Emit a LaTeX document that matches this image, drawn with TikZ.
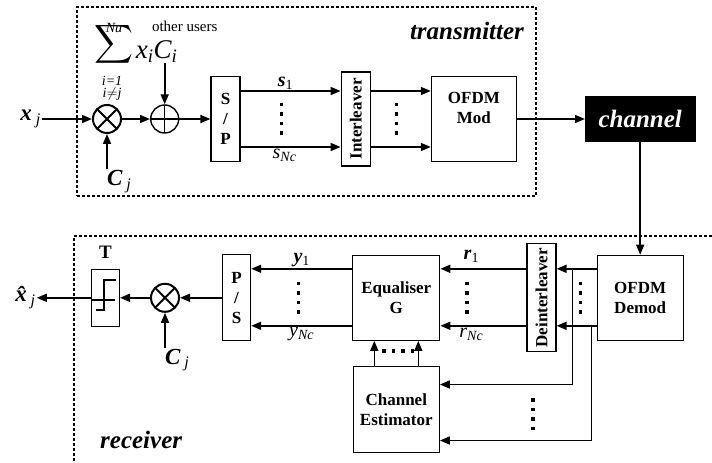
\documentclass[tikz,border=0pt]{standalone}
\usepackage{fontspec}
\setmainfont{Liberation Serif}
\usetikzlibrary{arrows.meta, positioning, calc}
\tikzset{
  blockbox/.style={rectangle,draw,line width=1.2pt,align=center,inner sep=0pt,font=\fontsize{17}{20}\selectfont\bfseries},
  blocktxt/.style={align=center,inner sep=0pt,font=\fontsize{17}{20}\selectfont\bfseries},
  mixnode/.style={circle,draw,line width=2pt,minimum size=28pt,inner sep=0pt,
    path picture={\draw[line width=2pt] (path picture bounding box.south west) -- (path picture bounding box.north east)
      (path picture bounding box.north west) -- (path picture bounding box.south east);}},
  addnode/.style={circle,draw,line width=1.4pt,minimum size=28pt,inner sep=0pt,
    path picture={\draw[line width=1.4pt] (path picture bounding box.north) -- (path picture bounding box.south)
      (path picture bounding box.west) -- (path picture bounding box.east);}},
  chanbox/.style={rectangle,fill=black,draw=black,text=white,minimum width=110pt,minimum height=45pt,inner sep=0pt,font=\fontsize{25}{30}\selectfont\bfseries\itshape},
  areabox/.style={draw,line width=1.2pt,dash pattern=on 3pt off 2pt},
  areatxt/.style={inner sep=0pt,font=\fontsize{25}{30}\selectfont\bfseries\itshape},
  varlbl/.style={inner sep=1pt,font=\fontsize{23}{25}\selectfont\bfseries\itshape},
  sigbold/.style={inner sep=1pt,font=\fontsize{20}{22}\selectfont\bfseries\itshape},
  sigital/.style={inner sep=1pt,font=\fontsize{20}{22}\selectfont\itshape},
  sumtxt/.style={inner sep=1pt,font=\fontsize{27}{30}\selectfont\itshape},
  limtxt/.style={inner sep=0pt,align=center,font=\fontsize{14}{12}\selectfont\itshape},
  usertxt/.style={inner sep=0pt,font=\fontsize{15}{17}\selectfont},
  tlbl/.style={inner sep=0pt,font=\fontsize{19}{21}\selectfont\bfseries},
  arr/.style={-{Triangle[length=10pt,width=8pt]},line width=1.6pt},
  dotcol/.style={line width=3.5pt,dash pattern=on 3.5pt off 6pt},
  stepline/.style={line width=2pt}
}

\begin{document}
\begin{tikzpicture}[x=1pt,y=1pt]
  \useasboundingbox (0,0) rectangle (712,463);

  %% areas
  \node[areabox,minimum width=459pt,minimum height=189pt] (txarea) at (306.5,361.5) {};
  \node[areatxt] (txlbl) at (467,432) {transmitter};
  \coordinate (rxcorner) at (74,227);
  \draw[areabox] (712,227) -- (rxcorner) -- (74,0);
  \node[areatxt,anchor=west] (rxlbl) at (100,23) {receiver};

  %% transmitter chain
  \node[mixnode] (mixtx) at (107,344) {};
  \node[addnode,right=28pt of mixtx] (addtx) {};
  \node[blockbox,right=31pt of addtx,minimum width=29pt,minimum height=85pt] (sp) {S\\/\\P};
  \node[blockbox,right=100pt of sp,minimum width=29pt,minimum height=94pt] (intl) {\rotatebox{90}{Interleaver}};
  \node[blockbox,right=60pt of intl,minimum width=85pt,minimum height=85pt] (ofdmmod) {};
  \node[blocktxt] (modtxt) at ([yshift=11pt]ofdmmod.center) {OFDM\\Mod};
  \node[chanbox,right=68pt of ofdmmod] (chan) {channel};

  %% transmitter labels
  \node[varlbl,left=50pt of mixtx] (xj) {x\,\textsubscript{\mdseries j}};
  \node[varlbl,below right=35pt and -1pt of mixtx.south] (cjtx) {C\,\textsubscript{\mdseries j}};
  \node[sumtxt,above=41pt of addtx,xshift=-8pt] (xici) {x\textsubscript{i}C\textsubscript{i}};
  \node[left=1pt of xici,yshift=7pt,inner sep=0pt] (sigma) {\scalebox{2.7}{$\displaystyle\sum$}};
  \node[limtxt,above=-10pt of sigma] (nu) {Nu};
  \node[limtxt,below=10pt of sigma,xshift=-2pt] (lims) {i=1\\i$\neq$j};
  \node[usertxt,above=7pt of xici,xshift=28pt] (others) {other users};

  \draw[arr] (xj.east) -- (mixtx.west);
  \draw[arr] (cjtx.north west -| mixtx.south) -- (mixtx.south);
  \draw[arr] (mixtx) -- (addtx);
  \draw[arr] (xici.south -| addtx.north) -- (addtx.north);
  \draw[arr] (addtx) -- (sp);
  \draw[arr] ([yshift=28pt]sp.east) -- ([yshift=28pt]sp.east -| intl.west)
      node[pos=0.45,above,sigbold] {s\textsubscript{\mdseries\upshape 1}};
  \draw[arr] ([yshift=-28pt]sp.east) -- ([yshift=-28pt]sp.east -| intl.west)
      node[pos=0.44,below,sigital] {s\textsubscript{Nc}};
  \draw[arr] ([yshift=28pt]intl.east) -- ([yshift=28pt]intl.east -| ofdmmod.west);
  \draw[arr] ([yshift=-28pt]intl.east) -- ([yshift=-28pt]intl.east -| ofdmmod.west);
  \draw[arr] (ofdmmod) -- (chan);
  \draw[dotcol] ($(sp.east)!0.41!(intl.west)$) ++(0,16) -- ++(0,-32);
  \draw[dotcol] ($(intl.east)!0.43!(ofdmmod.west)$) ++(0,16) -- ++(0,-32);

  %% receiver chain
  \node[blockbox,below=113pt of chan,minimum width=86pt,minimum height=85pt] (demod) {OFDM\\Demod};
  \node[blockbox,left=40pt of demod,minimum width=29pt,minimum height=108pt] (deint) {\rotatebox{90}{Deinterleaver}};
  \node[blockbox,left=86pt of deint,minimum width=87pt,minimum height=85pt] (eq) {Equaliser\\G};
  \node[blockbox,below=25pt of eq,minimum width=86pt,minimum height=86pt] (chest) {Channel\\Estimator};
  \node[blockbox,left=101pt of eq,minimum width=28pt,minimum height=86pt] (ps) {P\\/\\S};
  \node[mixnode,left=42pt of ps] (mixrx) {};
  \node[blockbox,left=30pt of mixrx,minimum width=28pt,minimum height=57pt] (thr) {};
  \node[tlbl,above=10pt of thr] (thrlbl) {T};
  \node[varlbl,left=54pt of thr] (xhat) {\^{x}\,\textsubscript{\mdseries j}};
  \node[varlbl,below right=35pt and -1pt of mixrx.south] (cjrx) {C\,\textsubscript{\mdseries j}};

  %% threshold step
  \draw[stepline] ([shift={(-9,-12.5)}]thr.center) -- ++(8,0) -- ++(0,30) -- ++(12,0);
  \draw[stepline] ([shift={(-13,-2.5)}]thr.center) -- ++(23,0);

  \draw[arr] (chan.south) -- (demod.north);
  \draw[arr] ([yshift=29pt]demod.west) -- ([yshift=29pt]demod.west -| deint.east);
  \draw[arr] ([yshift=-28pt]demod.west) -- ([yshift=-28pt]demod.west -| deint.east);
  \coordinate (tapa) at ([xshift=-24pt,yshift=29pt]demod.west);
  \coordinate (tapb) at ([xshift=-5pt,yshift=-28pt]demod.west);
  \draw[arr] (tapa) |- ([yshift=25pt]chest.east);
  \draw[arr] (tapb) |- ([yshift=-31pt]chest.east);
  \draw[arr] ([yshift=29pt]deint.west) -- ([yshift=29pt]deint.west -| eq.east)
      node[pos=0.64,above,sigbold,yshift=4pt] {r\textsubscript{\mdseries\upshape 1}};
  \draw[arr] ([yshift=-28pt]deint.west) -- ([yshift=-28pt]deint.west -| eq.east)
      node[pos=0.64,below,sigital] {r\textsubscript{Nc}};
  \draw[arr] ([yshift=29pt]eq.west) -- ([yshift=29pt]eq.west -| ps.east)
      node[midway,above,sigbold] {y\textsubscript{\mdseries\upshape 1}};
  \draw[arr] ([yshift=-28pt]eq.west) -- ([yshift=-28pt]eq.west -| ps.east)
      node[midway,below,sigital] {y\textsubscript{Nc}};
  \draw[arr] ([xshift=-22pt]chest.north) -- ([xshift=-22pt]eq.south);
  \draw[arr] ([xshift=22pt]chest.north) -- ([xshift=22pt]eq.south);
  \draw[arr] (ps) -- (mixrx);
  \draw[arr] (mixrx) -- (thr);
  \draw[arr] (thr) -- (xhat);
  \draw[arr] (cjrx.north west -| mixrx.south) -- (mixrx.south);
  \draw[dotcol] ($(deint.east)!0.6!(demod.west)$) ++(0,16) -- ++(0,-32);
  \draw[dotcol] ($(eq.east)!0.31!(deint.west)$) ++(0,16) -- ++(0,-32);
  \draw[dotcol] ($(ps.east)!0.47!(eq.west)$) ++(0,16) -- ++(0,-32);
  \draw[dotcol] ([shift={(-14,15)}]chest.north) -- ++(32,0);
  \draw[dotcol] ([shift={(93,11)}]chest.east) -- ++(0,-32);
\end{tikzpicture}
\end{document}
